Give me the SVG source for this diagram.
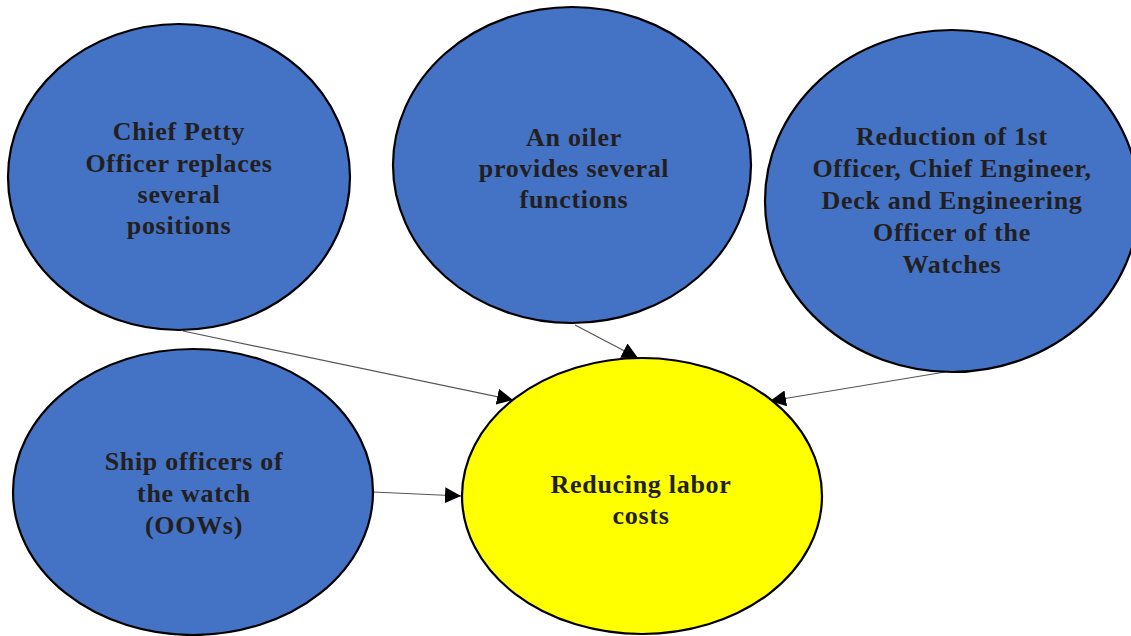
<svg xmlns="http://www.w3.org/2000/svg" width="1131" height="636" viewBox="0 0 1131 636">
  <defs>
    <marker id="arrow" viewBox="0 0 10 10" refX="10" refY="5" markerWidth="16" markerHeight="16" markerUnits="userSpaceOnUse" orient="auto">
      <path d="M0,0 L10,5 L0,10 Z" fill="#000"/>
    </marker>
    <style>
      .cause { fill: #4472C4; stroke: #000; stroke-width: 2.2; }
      .effect { fill: #FFFF00; stroke: #000; stroke-width: 2.2; }
      .label { font-family: "Liberation Serif", "DejaVu Serif", serif; font-weight: bold; font-size: 26px; letter-spacing: 0.7px; fill: #231F20; text-anchor: middle; }
      .link { stroke: #555; stroke-width: 1.2; fill: none; marker-end: url(#arrow); }
    </style>
  </defs>
  <rect width="1131" height="636" fill="#fff"/>

  <!-- connectors -->
  <g id="connectors">
    <line class="link" x1="183" y1="331" x2="513" y2="400"/>
    <line class="link" x1="575" y1="325" x2="638" y2="358"/>
    <line class="link" x1="945" y1="372" x2="770" y2="401"/>
    <line class="link" x1="373" y1="492" x2="461" y2="496"/>
  </g>

  <g id="node-chief-petty-officer">
    <ellipse class="cause" cx="179" cy="177" rx="171" ry="153"/>
    <text class="label" x="179" y="140">Chief Petty</text>
    <text class="label" x="179" y="172">Officer replaces</text>
    <text class="label" x="179" y="203">several</text>
    <text class="label" x="179" y="234">positions</text>
  </g>

  <g id="node-oiler">
    <ellipse class="cause" cx="572" cy="165" rx="179" ry="158"/>
    <text class="label" x="574" y="146">An oiler</text>
    <text class="label" x="574" y="177">provides several</text>
    <text class="label" x="574" y="208">functions</text>
  </g>

  <g id="node-officer-reduction">
    <ellipse class="cause" cx="952" cy="201" rx="187" ry="171"/>
    <text class="label" x="952" y="145">Reduction of 1st</text>
    <text class="label" x="952" y="177">Officer, Chief Engineer,</text>
    <text class="label" x="952" y="209">Deck and Engineering</text>
    <text class="label" x="952" y="241">Officer of the</text>
    <text class="label" x="952" y="273">Watches</text>
  </g>

  <g id="node-oows">
    <ellipse class="cause" cx="193" cy="492" rx="180" ry="143"/>
    <text class="label" x="194" y="470">Ship officers of</text>
    <text class="label" x="194" y="502">the watch</text>
    <text class="label" x="194" y="534">(OOWs)</text>
  </g>

  <g id="node-labor-costs">
    <ellipse class="effect" cx="642" cy="496" rx="180" ry="138"/>
    <text class="label" x="641" y="493">Reducing labor</text>
    <text class="label" x="641" y="524">costs</text>
  </g>
</svg>
